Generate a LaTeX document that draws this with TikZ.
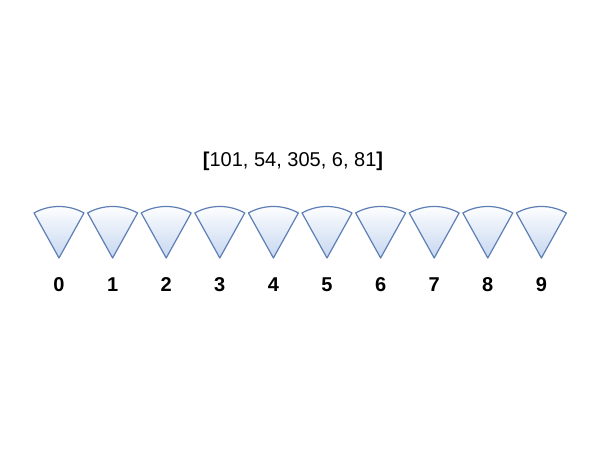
\documentclass[tikz,border=0pt]{standalone}
\usepackage{fontspec}
\setmainfont{Liberation Sans}
\begin{document}
\begin{tikzpicture}[x=1pt,y=1pt,
  slice/.style={draw=strokeblue, line width=1.2pt, line join=round, top color=white, bottom color=fillblue},
  idx/.style={font=\fontsize{20}{24}\selectfont\bfseries, inner sep=0pt},
  title/.style={font=\fontsize{20}{24}\selectfont, inner sep=0pt}]
\definecolor{strokeblue}{HTML}{5E7FB5}
\definecolor{fillblue}{HTML}{C6D7F0}
\useasboundingbox[fill=white] (0,0) rectangle (600,450);
\node[title] (arr) at (293,289) {\textbf{[}101, 54, 305, 6, 81\textbf{]}};
\foreach \i in {0,...,9} {
  \coordinate (apex\i) at ({59+53.6*\i},192);
  \draw[slice] (apex\i) -- ++(119:51.5) arc[start angle=119, end angle=61, radius=51.5] -- cycle;
  \node[idx] (lab\i) at ({59+53.6*\i},165) {\i};
}
\end{tikzpicture}
\end{document}
